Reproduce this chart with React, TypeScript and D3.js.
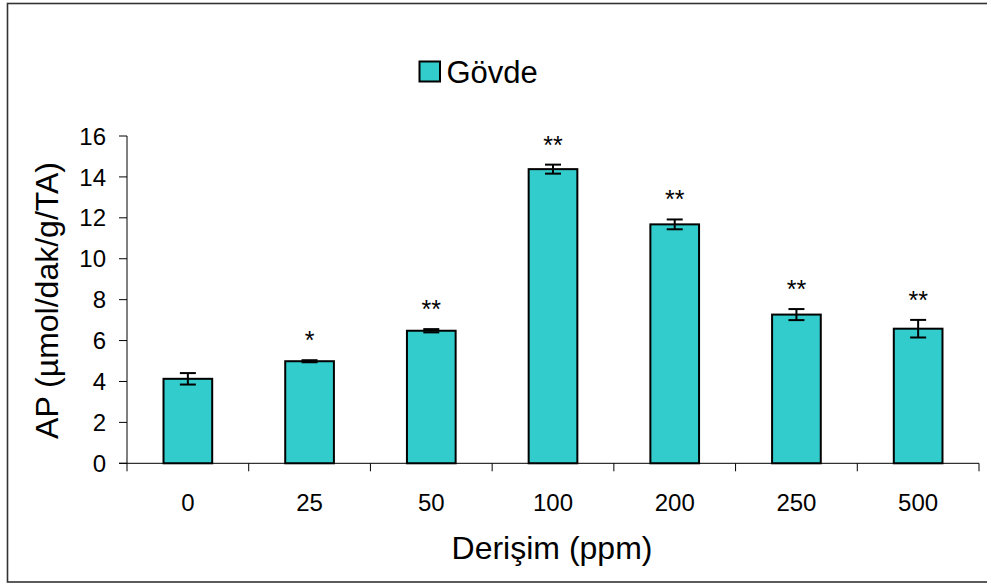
import React from "react";
import * as d3 from "d3";

const categories = ["0", "25", "50", "100", "200", "250", "500"];
const values = [4.13, 4.99, 6.48, 14.38, 11.68, 7.27, 6.58];
const errors = [0.28, 0.05, 0.08, 0.22, 0.24, 0.27, 0.43];
const stars = ["", "*", "**", "**", "**", "**", "**"];
const yTicks = [0, 2, 4, 6, 8, 10, 12, 14, 16];
const seriesName = "Gövde";
const xTitle = "Derişim (ppm)";
const yTitle = "AP (µmol/dak/g/TA)";

const W = 987;
const H = 583;
const FONT = "'Liberation Sans', Arial, Helvetica, sans-serif";
const FILL = "#33CCCC";

export default function App() {
  const x0 = 127;
  const x1 = 979;
  const yBottom = 463.3;
  const yTop = 136;
  const x = d3.scaleBand<string>().domain(categories).range([x0, x1]).paddingInner(0.6).paddingOuter(0.3);
  const y = d3.scaleLinear().domain([0, 16]).range([yBottom, yTop]);
  const step = x.step();
  const bw = x.bandwidth();
  const bounds = d3.range(categories.length + 1).map((i) => x0 + i * step);

  return (
    <svg width={W} height={H} style={{ position: "absolute", left: 0, top: 0, background: "#fff" }}>
      <rect x={7.5} y={3.5} width={W + 10} height={578.5} fill="#fff" stroke="#333" strokeWidth={1.6} />

      {/* legend */}
      <rect x={419.5} y={61.5} width={20.5} height={20} fill={FILL} stroke="#000" strokeWidth={2} />
      <text x={446.5} y={82.5} fontFamily={FONT} fontSize={31} fill="#000">
        {seriesName}
      </text>

      {/* bars */}
      {categories.map((c, i) => {
        const bx = x(c) as number;
        const cx = bx + bw / 2;
        const v = values[i];
        const e = errors[i];
        const top = y(v + e);
        const bot = y(v - e);
        return (
          <g key={c}>
            <rect x={bx} y={y(v)} width={bw} height={yBottom - y(v)} fill={FILL} stroke="#000" strokeWidth={2} />
            <line x1={cx} x2={cx} y1={top} y2={bot} stroke="#000" strokeWidth={2} />
            <line x1={cx - 8} x2={cx + 8} y1={top} y2={top} stroke="#000" strokeWidth={2} />
            <line x1={cx - 8} x2={cx + 8} y1={bot} y2={bot} stroke="#000" strokeWidth={2} />
            {stars[i] && (
              <text x={cx} y={top - 25 + 14} textAnchor="middle" fontFamily={FONT} fontSize={25} fill="#000">
                {stars[i]}
              </text>
            )}
          </g>
        );
      })}

      {/* y axis */}
      <line x1={x0} x2={x0} y1={yTop} y2={yBottom} stroke="#000" strokeWidth={1} />
      {yTicks.map((t) => (
        <g key={t}>
          <line x1={x0 - 8} x2={x0} y1={y(t)} y2={y(t)} stroke="#000" strokeWidth={1} />
          <text x={106} y={y(t) + 8.6} textAnchor="end" fontFamily={FONT} fontSize={24} fill="#000">
            {t}
          </text>
        </g>
      ))}

      {/* x axis */}
      <line x1={x0 - 8} x2={x1} y1={yBottom} y2={yBottom} stroke="#000" strokeWidth={1} />
      {bounds.map((b, i) => (
        <line key={i} x1={b} x2={b} y1={yBottom} y2={yBottom + 8} stroke="#000" strokeWidth={1} />
      ))}
      {categories.map((c) => (
        <text key={c} x={(x(c) as number) + bw / 2} y={510.5} textAnchor="middle" fontFamily={FONT} fontSize={24} fill="#000">
          {c}
        </text>
      ))}

      {/* titles */}
      <text x={552} y={558.5} textAnchor="middle" fontFamily={FONT} fontSize={32} fill="#000">
        {xTitle}
      </text>
      <text transform="translate(58,300.5) rotate(-90)" textAnchor="middle" fontFamily={FONT} fontSize={32} fill="#000">
        {yTitle}
      </text>
    </svg>
  );
}
